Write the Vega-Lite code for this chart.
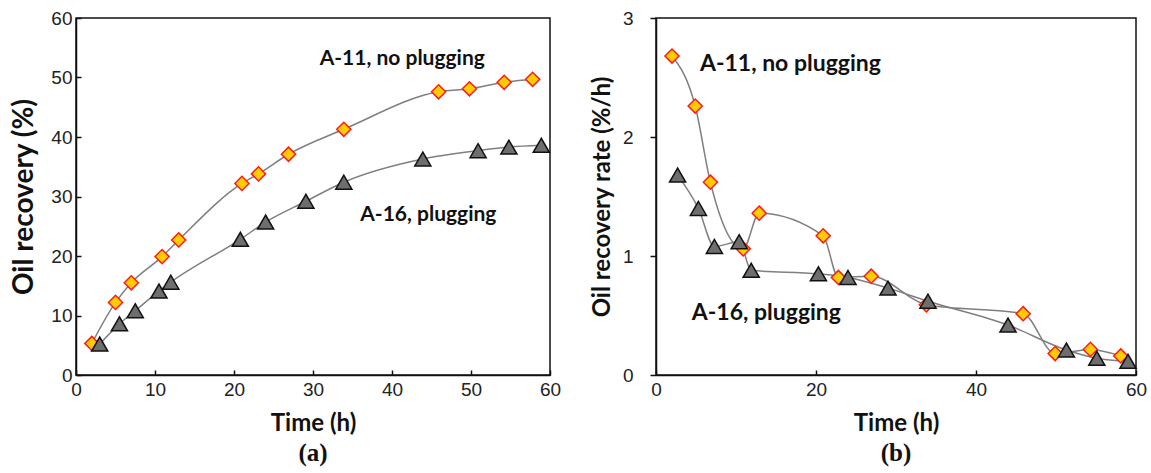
{
  "$schema": "https://vega.github.io/schema/vega-lite/v6.json",
  "background": "white",
  "padding": {"left": 10, "top": 8, "right": 2, "bottom": 5},
  "spacing": 27,
  "config": {
    "view": {"stroke": "#111", "strokeWidth": 1.5},
    "axis": {
      "domainColor": "#111", "domainWidth": 1.5, "tickColor": "#111", "tickWidth": 1.5, "labelFlush": false,
      "grid": false, "labelFont": "Liberation Sans", "labelFontSize": 19, "labelColor": "#222",
      "titleFont": "Lato", "titleFontSize": 24, "titleFontWeight": "bold", "titleColor": "#111"
    },
    "title": {"font": "Liberation Serif", "fontSize": 25, "fontWeight": "bold", "color": "#111"}
  },
  "datasets": {
    "recovery": [
      {"t": 2, "v": 5.3, "series": "A-11, no plugging"},
      {"t": 5, "v": 12.2, "series": "A-11, no plugging"},
      {"t": 7, "v": 15.5, "series": "A-11, no plugging"},
      {"t": 10.9, "v": 19.9, "series": "A-11, no plugging"},
      {"t": 13, "v": 22.7, "series": "A-11, no plugging"},
      {"t": 21, "v": 32.2, "series": "A-11, no plugging"},
      {"t": 23.1, "v": 33.8, "series": "A-11, no plugging"},
      {"t": 26.9, "v": 37.1, "series": "A-11, no plugging"},
      {"t": 33.9, "v": 41.3, "series": "A-11, no plugging"},
      {"t": 45.9, "v": 47.6, "series": "A-11, no plugging"},
      {"t": 49.8, "v": 48.1, "series": "A-11, no plugging"},
      {"t": 54.2, "v": 49.2, "series": "A-11, no plugging"},
      {"t": 57.8, "v": 49.7, "series": "A-11, no plugging"},
      {"t": 3, "v": 5.2, "series": "A-16, plugging"},
      {"t": 5.5, "v": 8.6, "series": "A-16, plugging"},
      {"t": 7.5, "v": 10.8, "series": "A-16, plugging"},
      {"t": 10.5, "v": 14.1, "series": "A-16, plugging"},
      {"t": 12, "v": 15.6, "series": "A-16, plugging"},
      {"t": 20.8, "v": 22.8, "series": "A-16, plugging"},
      {"t": 24, "v": 25.7, "series": "A-16, plugging"},
      {"t": 29.1, "v": 29.2, "series": "A-16, plugging"},
      {"t": 33.9, "v": 32.4, "series": "A-16, plugging"},
      {"t": 43.9, "v": 36.3, "series": "A-16, plugging"},
      {"t": 50.9, "v": 37.7, "series": "A-16, plugging"},
      {"t": 54.8, "v": 38.3, "series": "A-16, plugging"},
      {"t": 58.9, "v": 38.6, "series": "A-16, plugging"}
    ],
    "rate": [
      {"t": 2, "v": 2.68, "series": "A-11, no plugging"},
      {"t": 4.9, "v": 2.26, "series": "A-11, no plugging"},
      {"t": 6.8, "v": 1.62, "series": "A-11, no plugging"},
      {"t": 10.9, "v": 1.06, "series": "A-11, no plugging"},
      {"t": 12.9, "v": 1.36, "series": "A-11, no plugging"},
      {"t": 20.9, "v": 1.17, "series": "A-11, no plugging"},
      {"t": 22.8, "v": 0.82, "series": "A-11, no plugging"},
      {"t": 26.9, "v": 0.83, "series": "A-11, no plugging"},
      {"t": 33.8, "v": 0.59, "series": "A-11, no plugging"},
      {"t": 45.9, "v": 0.515, "series": "A-11, no plugging"},
      {"t": 49.9, "v": 0.18, "series": "A-11, no plugging"},
      {"t": 54.3, "v": 0.215, "series": "A-11, no plugging"},
      {"t": 58.1, "v": 0.16, "series": "A-11, no plugging"},
      {"t": 2.7, "v": 1.68, "series": "A-16, plugging"},
      {"t": 5.3, "v": 1.4, "series": "A-16, plugging"},
      {"t": 7.3, "v": 1.08, "series": "A-16, plugging"},
      {"t": 10.4, "v": 1.12, "series": "A-16, plugging"},
      {"t": 11.9, "v": 0.88, "series": "A-16, plugging"},
      {"t": 20.3, "v": 0.85, "series": "A-16, plugging"},
      {"t": 24, "v": 0.82, "series": "A-16, plugging"},
      {"t": 29, "v": 0.73, "series": "A-16, plugging"},
      {"t": 34, "v": 0.62, "series": "A-16, plugging"},
      {"t": 44, "v": 0.42, "series": "A-16, plugging"},
      {"t": 51.3, "v": 0.21, "series": "A-16, plugging"},
      {"t": 55.1, "v": 0.14, "series": "A-16, plugging"},
      {"t": 59, "v": 0.115, "series": "A-16, plugging"}
    ],
    "labelsA": [
      {"t": 41.3, "v": 53.1, "text": "A-11, no plugging"},
      {"t": 44.6, "v": 26.9, "text": "A-16, plugging"}
    ],
    "labelsB": [
      {"t": 16.8, "v": 2.61, "text": "A-11, no plugging"},
      {"t": 13.8, "v": 0.52, "text": "A-16, plugging"}
    ]
  },
  "hconcat": [
    {
      "width": 474, "height": 357,
      "title": {"text": "(a)", "orient": "bottom", "offset": 6},
      "layer": [
        {
          "data": {"name": "recovery"},
          "mark": {"type": "line", "interpolate": "monotone", "color": "#7f7f7f", "strokeWidth": 1.5},
          "encoding": {
            "x": {"field": "t", "type": "quantitative", "scale": {"domain": [0, 60]}, "axis": {"title": "Time (h)", "values": [0,10,20,30,40,50,60], "tickSize": -5, "labelPadding": 10, "titlePadding": 12}},
            "y": {"field": "v", "type": "quantitative", "scale": {"domain": [0, 60]}, "axis": {"title": "Oil recovery (%)", "titleFontSize": 28, "values": [0,10,20,30,40,50,60], "tickSize": -5, "labelPadding": 9, "titlePadding": 12}},
            "detail": {"field": "series"}
          }
        },
        {
          "data": {"name": "recovery"},
          "mark": {"type": "point", "filled": true, "opacity": 1, "strokeWidth": 1.5},
          "encoding": {
            "x": {"field": "t", "type": "quantitative"},
            "y": {"field": "v", "type": "quantitative"},
            "shape": {"field": "series", "type": "nominal", "scale": {"domain": ["A-11, no plugging", "A-16, plugging"], "range": ["diamond", "triangle-up"]}, "legend": null},
            "fill": {"field": "series", "type": "nominal", "scale": {"domain": ["A-11, no plugging", "A-16, plugging"], "range": ["#ffcc00", "#6e6e6e"]}, "legend": null},
            "stroke": {"field": "series", "type": "nominal", "scale": {"domain": ["A-11, no plugging", "A-16, plugging"], "range": ["#ff1a1a", "#111111"]}, "legend": null},
            "size": {"field": "series", "type": "nominal", "scale": {"domain": ["A-11, no plugging", "A-16, plugging"], "range": [200, 260]}, "legend": null}
          }
        },
        {
          "data": {"name": "labelsA"},
          "mark": {"type": "text", "font": "Lato", "fontWeight": "bold", "fontSize": 21, "color": "#111"},
          "encoding": {
            "x": {"field": "t", "type": "quantitative"},
            "y": {"field": "v", "type": "quantitative"},
            "text": {"field": "text"}
          }
        }
      ]
    },
    {
      "width": 480, "height": 357,
      "title": {"text": "(b)", "orient": "bottom", "offset": 6},
      "layer": [
        {
          "data": {"name": "rate"},
          "mark": {"type": "line", "interpolate": "monotone", "color": "#7f7f7f", "strokeWidth": 1.5},
          "encoding": {
            "x": {"field": "t", "type": "quantitative", "scale": {"domain": [0, 60]}, "axis": {"title": "Time (h)", "values": [0,20,40,60], "tickSize": -5, "labelPadding": 10, "titlePadding": 12}},
            "y": {"field": "v", "type": "quantitative", "scale": {"domain": [0, 3]}, "axis": {"title": "Oil recovery rate (%/h)", "format": "d", "values": [0,1,2,3], "tickSize": 6, "labelPadding": 17, "titlePadding": 8}},
            "detail": {"field": "series"}
          }
        },
        {
          "data": {"name": "rate"},
          "mark": {"type": "point", "filled": true, "opacity": 1, "strokeWidth": 1.5},
          "encoding": {
            "x": {"field": "t", "type": "quantitative"},
            "y": {"field": "v", "type": "quantitative"},
            "shape": {"field": "series", "type": "nominal", "scale": {"domain": ["A-11, no plugging", "A-16, plugging"], "range": ["diamond", "triangle-up"]}, "legend": null},
            "fill": {"field": "series", "type": "nominal", "scale": {"domain": ["A-11, no plugging", "A-16, plugging"], "range": ["#ffcc00", "#6e6e6e"]}, "legend": null},
            "stroke": {"field": "series", "type": "nominal", "scale": {"domain": ["A-11, no plugging", "A-16, plugging"], "range": ["#ff1a1a", "#111111"]}, "legend": null},
            "size": {"field": "series", "type": "nominal", "scale": {"domain": ["A-11, no plugging", "A-16, plugging"], "range": [200, 260]}, "legend": null}
          }
        },
        {
          "data": {"name": "labelsB"},
          "mark": {"type": "text", "font": "Lato", "fontWeight": "bold", "fontSize": 23, "color": "#111"},
          "encoding": {
            "x": {"field": "t", "type": "quantitative"},
            "y": {"field": "v", "type": "quantitative"},
            "text": {"field": "text"}
          }
        }
      ]
    }
  ],
  "resolve": {"scale": {"x": "independent", "y": "independent", "shape": "independent", "fill": "independent", "stroke": "independent", "size": "independent"}}
}
